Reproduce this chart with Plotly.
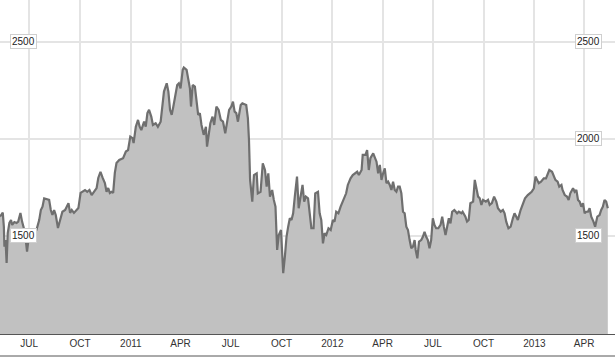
import plotly.graph_objects as go

# ---- data ----
dates_2010 = [
    "2010-05-09", "2010-05-14", "2010-05-16", "2010-05-17", "2010-05-19", "2010-05-21", "2010-05-23", "2010-05-26", "2010-05-29", "2010-05-31",
    "2010-06-04", "2010-06-08", "2010-06-11", "2010-06-15", "2010-06-18", "2010-06-20", "2010-06-23", "2010-06-27",
    "2010-07-01", "2010-07-08", "2010-07-14", "2010-07-19", "2010-07-22", "2010-07-25", "2010-07-28",
    "2010-08-01", "2010-08-06", "2010-08-09", "2010-08-12", "2010-08-15", "2010-08-18", "2010-08-22", "2010-08-27", "2010-08-30",
    "2010-09-04", "2010-09-07", "2010-09-10", "2010-09-13", "2010-09-16", "2010-09-20", "2010-09-25", "2010-09-28",
    "2010-10-02", "2010-10-06", "2010-10-10", "2010-10-14", "2010-10-18", "2010-10-22", "2010-10-26", "2010-10-31",
    "2010-11-03", "2010-11-07", "2010-11-11", "2010-11-15", "2010-11-18", "2010-11-21", "2010-11-24", "2010-11-27", "2010-11-30",
    "2010-12-03", "2010-12-06", "2010-12-11", "2010-12-18", "2010-12-23", "2010-12-27", "2010-12-31",
]
values_2010 = [
    1600, 1620, 1548, 1445, 1479, 1361, 1515, 1567, 1582, 1557,
    1572, 1567, 1574, 1619, 1574, 1557, 1521, 1419,
    1515, 1531, 1531, 1582, 1634, 1651, 1694,
    1691, 1686, 1634, 1608, 1634, 1608, 1541, 1593, 1625,
    1634, 1651, 1669, 1619, 1634, 1619, 1634, 1644,
    1722, 1728, 1737, 1728, 1737, 1711, 1728, 1747,
    1799, 1831, 1799, 1773, 1728, 1747, 1722, 1728, 1722,
    1825, 1876, 1892, 1901, 1935, 1943, 2012,
]

dates_2011 = [
    "2011-01-04", "2011-01-06", "2011-01-10", "2011-01-14", "2011-01-17", "2011-01-20", "2011-01-25", "2011-01-28", "2011-01-31",
    "2011-02-03", "2011-02-07", "2011-02-10", "2011-02-15", "2011-02-19", "2011-02-24", "2011-02-27",
    "2011-03-02", "2011-03-07", "2011-03-10", "2011-03-13", "2011-03-16", "2011-03-19", "2011-03-22", "2011-03-26", "2011-03-29",
    "2011-04-01", "2011-04-05", "2011-04-07", "2011-04-12", "2011-04-15", "2011-04-18", "2011-04-20", "2011-04-23", "2011-04-27", "2011-04-30",
    "2011-05-03", "2011-05-06", "2011-05-09", "2011-05-13", "2011-05-17", "2011-05-19", "2011-05-22", "2011-05-25", "2011-05-29",
    "2011-06-01", "2011-06-05", "2011-06-09", "2011-06-13", "2011-06-17", "2011-06-21", "2011-06-24", "2011-06-28",
    "2011-07-02", "2011-07-05", "2011-07-08", "2011-07-11", "2011-07-14", "2011-07-19", "2011-07-22", "2011-07-26", "2011-07-29",
    "2011-08-01", "2011-08-03", "2011-08-05", "2011-08-09", "2011-08-12", "2011-08-17", "2011-08-19", "2011-08-24", "2011-08-28",
    "2011-09-01", "2011-09-04", "2011-09-07", "2011-09-10", "2011-09-14", "2011-09-17", "2011-09-20", "2011-09-23", "2011-09-26", "2011-09-30",
    "2011-10-02", "2011-10-04", "2011-10-07", "2011-10-10", "2011-10-13", "2011-10-16", "2011-10-19", "2011-10-22", "2011-10-25", "2011-10-29",
    "2011-11-01", "2011-11-05", "2011-11-08", "2011-11-11", "2011-11-14", "2011-11-18", "2011-11-21", "2011-11-24", "2011-11-28",
    "2011-12-01", "2011-12-06", "2011-12-09", "2011-12-12", "2011-12-15", "2011-12-18", "2011-12-21", "2011-12-25", "2011-12-29",
]
values_2011 = [
    2004, 1979, 2063, 2098, 2063, 2046, 2089, 2063, 2133,
    2150, 2115, 2072, 2081, 2063, 2089, 2175,
    2244, 2287, 2244, 2150, 2124, 2167, 2218, 2278, 2287,
    2261, 2356, 2368, 2356, 2304, 2261, 2167, 2278, 2270, 2210,
    2124, 2133, 2072, 2021, 2063, 1960, 2012, 2081, 2115,
    2072, 2167, 2150, 2098, 2089, 2029, 2089, 2150,
    2167, 2192, 2141, 2133, 2089, 2175, 2184, 2179, 2175,
    2107, 1995, 1789, 1677, 1814, 1823, 1720, 1728, 1875,
    1840, 1754, 1823, 1703, 1737, 1686, 1651, 1428, 1505, 1531,
    1428, 1308, 1393, 1496, 1548, 1591, 1582, 1617, 1703, 1806,
    1643, 1720, 1763, 1677, 1703, 1694, 1625, 1540, 1540,
    1720, 1728, 1617, 1582, 1462, 1514, 1505, 1540, 1531,
]

dates_2012 = [
    "2012-01-02", "2012-01-05", "2012-01-08", "2012-01-12", "2012-01-16", "2012-01-20", "2012-01-23", "2012-01-26", "2012-01-29",
    "2012-02-03", "2012-02-07", "2012-02-12", "2012-02-15", "2012-02-18", "2012-02-23", "2012-02-25",
    "2012-03-01", "2012-03-04", "2012-03-07", "2012-03-10", "2012-03-15", "2012-03-21", "2012-03-24", "2012-03-27", "2012-03-30",
    "2012-04-02", "2012-04-05", "2012-04-08", "2012-04-11", "2012-04-14", "2012-04-17", "2012-04-20", "2012-04-23", "2012-04-26", "2012-04-29",
    "2012-05-02", "2012-05-05", "2012-05-08", "2012-05-11", "2012-05-14", "2012-05-17", "2012-05-20", "2012-05-23", "2012-05-26", "2012-05-29", "2012-05-31",
    "2012-06-03", "2012-06-06", "2012-06-10", "2012-06-13", "2012-06-16", "2012-06-19", "2012-06-22", "2012-06-25", "2012-06-28",
    "2012-07-01", "2012-07-04", "2012-07-07", "2012-07-11", "2012-07-15", "2012-07-18", "2012-07-21", "2012-07-24", "2012-07-27", "2012-07-30",
    "2012-08-02", "2012-08-05", "2012-08-09", "2012-08-14", "2012-08-17", "2012-08-22", "2012-08-24", "2012-08-29",
    "2012-09-01", "2012-09-04", "2012-09-07", "2012-09-12", "2012-09-15", "2012-09-18", "2012-09-21", "2012-09-24", "2012-09-27", "2012-09-30",
    "2012-10-05", "2012-10-09", "2012-10-12", "2012-10-16", "2012-10-20", "2012-10-24", "2012-10-27",
    "2012-11-01", "2012-11-05", "2012-11-08", "2012-11-11", "2012-11-15", "2012-11-19", "2012-11-23", "2012-11-26", "2012-11-29",
    "2012-12-02", "2012-12-07", "2012-12-11", "2012-12-15", "2012-12-20", "2012-12-23", "2012-12-27", "2012-12-31",
]
values_2012 = [
    1582, 1574, 1625, 1617, 1651, 1677, 1703, 1720, 1763,
    1797, 1814, 1823, 1831, 1814, 1840, 1918,
    1918, 1943, 1840, 1901, 1926, 1883, 1823, 1866, 1789,
    1823, 1849, 1772, 1780, 1763, 1737, 1780, 1737, 1728, 1754,
    1754, 1720, 1625, 1617, 1548, 1531, 1479, 1437, 1445, 1479, 1428,
    1385, 1471, 1479, 1496, 1522, 1496, 1479, 1437, 1479,
    1591, 1557, 1540, 1540, 1557, 1600, 1548, 1505, 1548, 1591,
    1565, 1625, 1634, 1617, 1625, 1617, 1625, 1600,
    1574, 1582, 1669, 1677, 1789, 1754, 1703, 1694, 1660, 1686,
    1677, 1686, 1660, 1669, 1703, 1677, 1643,
    1625, 1634, 1617, 1574, 1540, 1548, 1591, 1617, 1600,
    1582, 1634, 1669, 1694, 1711, 1720, 1728, 1746,
]

dates_2013 = [
    "2013-01-03", "2013-01-06", "2013-01-09", "2013-01-13", "2013-01-18", "2013-01-22", "2013-01-25", "2013-01-28",
    "2013-02-02", "2013-02-05", "2013-02-08", "2013-02-12", "2013-02-15", "2013-02-19", "2013-02-21", "2013-02-25",
    "2013-03-01", "2013-03-04", "2013-03-07", "2013-03-12", "2013-03-15", "2013-03-18", "2013-03-21", "2013-03-24", "2013-03-27", "2013-03-30",
    "2013-04-02", "2013-04-05", "2013-04-08", "2013-04-11", "2013-04-14", "2013-04-18", "2013-04-21", "2013-04-25", "2013-04-29",
    "2013-05-02", "2013-05-05", "2013-05-08", "2013-05-11", "2013-05-14",
]
values_2013 = [
    1806, 1789, 1772, 1780, 1797, 1797, 1823, 1840,
    1831, 1814, 1789, 1780, 1754, 1763, 1737, 1711,
    1703, 1686, 1720, 1746, 1728, 1737, 1686, 1677, 1651, 1669,
    1617, 1625, 1625, 1643, 1600, 1574, 1548, 1600, 1608,
    1634, 1651, 1686, 1677, 1643,
]

tick_dates = ["2010-07-01", "2010-10-01", "2011-01-01", "2011-04-01", "2011-07-01", "2011-10-01",
              "2012-01-01", "2012-04-01", "2012-07-01", "2012-10-01", "2013-01-01", "2013-04-01"]
tick_labels = ["JUL", "OCT", "2011", "APR", "JUL", "OCT", "2012", "APR", "JUL", "OCT", "2013", "APR"]
y_ticks = [1500, 2000, 2500]
left_labels = [1500, 2500]
right_labels = [1500, 2000, 2500]

dates = dates_2010 + dates_2011 + dates_2012 + dates_2013
values = values_2010 + values_2011 + values_2012 + values_2013

fig = go.Figure()
fig.add_trace(go.Scatter(
    x=dates, y=values, mode="lines",
    line=dict(color="#6f6f6f", width=2.2),
    fill="tozeroy", fillcolor="#c1c1c1",
    hoverinfo="skip", showlegend=False,
))

grid_color = "#e4e4e4"
fig.update_layout(
    width=615, height=360,
    margin=dict(l=0, r=0, t=0, b=26),
    paper_bgcolor="white", plot_bgcolor="white",
    font=dict(family="Liberation Sans, Arial, sans-serif", size=10, color="#333"),
    xaxis=dict(
        type="date", range=["2010-05-09", "2013-05-27"],
        tickmode="array", tickvals=tick_dates, ticktext=tick_labels,
        showgrid=True, gridcolor=grid_color, gridwidth=2,
        showline=True, linecolor="#555", linewidth=1,
        ticks="", tickfont=dict(size=10, color="#333"),
        zeroline=False, fixedrange=True,
    ),
    yaxis=dict(
        range=[995, 2716],
        tickmode="array", tickvals=y_ticks,
        showticklabels=False, ticks="",
        showgrid=True, gridcolor=grid_color, gridwidth=2,
        zeroline=False, showline=False, fixedrange=True,
    ),
)

# bottom border line below tick labels
fig.add_shape(type="line", xref="paper", yref="paper", x0=0, x1=1,
              y0=-22 / 334, y1=-22 / 334, line=dict(color="#555", width=1))

for v in left_labels:
    fig.add_annotation(x=23 / 615, xref="paper", y=v, yref="y", text=str(v),
                       showarrow=False, xanchor="center", yanchor="middle",
                       bgcolor="white", bordercolor="#cfcfcf", borderwidth=1, borderpad=1,
                       font=dict(size=10, color="#222"))
for v in right_labels:
    fig.add_annotation(x=588 / 615, xref="paper", y=v, yref="y", text=str(v),
                       showarrow=False, xanchor="center", yanchor="middle",
                       bgcolor="white", bordercolor="#cfcfcf", borderwidth=1, borderpad=1,
                       font=dict(size=10, color="#222"))

fig.write_html("out.html", config={"displayModeBar": False},
               post_script="document.body.style.margin='0';")
